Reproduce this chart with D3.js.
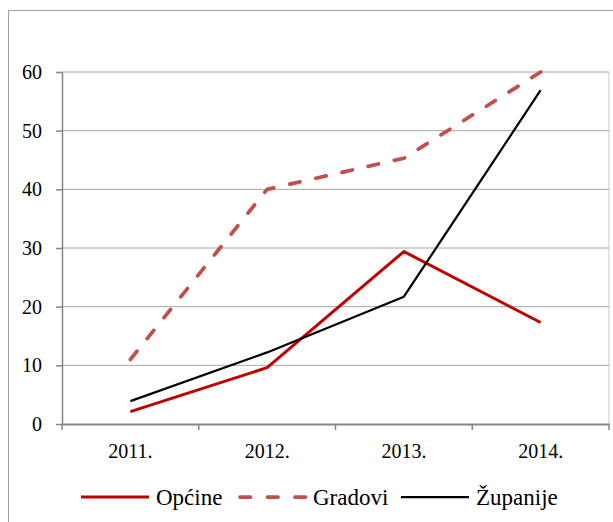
<!DOCTYPE html>
<html><head><meta charset="utf-8">
<script src="https://cdn.jsdelivr.net/npm/d3@7"></script>
<style>
html,body{margin:0;padding:0;background:#fff;}
svg{display:block;font-family:"Liberation Serif","DejaVu Serif",serif;font-variant-numeric:oldstyle-nums;}
</style></head>
<body><svg id="c" width="613" height="522"></svg>
<script>
const years = ["2011.", "2012.", "2013.", "2014."];
const opcine = [2.1, 9.6, 29.4, 17.3];
const gradovi = [11.0, 40.0, 45.3, 60.0];
const zupanije = [3.9, 12.2, 21.7, 56.9];
const yTicks = [0, 10, 20, 30, 40, 50, 60];
const seriesNames = ["Općine", "Gradovi", "Županije"];

const series = [
  {name: seriesNames[0], values: opcine, color: "#c00000", dash: null, width: 3},
  {name: seriesNames[1], values: gradovi, color: "#c0504d", dash: "10.5,17", width: 3.75},
  {name: seriesNames[2], values: zupanije, color: "#000000", dash: null, width: 2.25}
];

const svg = d3.select("#c");
const L = 62, R = 609, T = 72, B = 424;

// outer chart border
svg.append("rect").attr("x", 8.5).attr("y", 10.5).attr("width", 700).attr("height", 600)
  .attr("fill", "none").attr("stroke", "#a0a0a0").attr("stroke-width", 1);

const x = d3.scaleBand().domain(years).range([L, R]).padding(0);
const y = d3.scaleLinear().domain([0, 60]).range([B, T]);

// gridlines
svg.append("g").selectAll("line").data(yTicks.filter(d => d > 0)).join("line")
  .attr("x1", L).attr("x2", R).attr("y1", d => y(d)).attr("y2", d => y(d))
  .attr("stroke", "#a6a6a6").attr("stroke-width", 1);

// right plot border
svg.append("line").attr("x1", R).attr("x2", R).attr("y1", T).attr("y2", B)
  .attr("stroke", "#c8c8c8").attr("stroke-width", 1);

// y axis
const yAxis = svg.append("g").attr("transform", `translate(${L},0)`)
  .call(d3.axisLeft(y).tickValues(yTicks).tickSize(6).tickPadding(14).tickSizeOuter(0));
yAxis.select(".domain").attr("stroke", "#868686").attr("stroke-width", 1.5);
yAxis.selectAll(".tick line").attr("stroke", "#868686").attr("stroke-width", 1.5);
yAxis.selectAll("text").attr("font-size", 20).attr("fill", "#000")
  .attr("font-family", "Liberation Serif");

// x axis
const xAxis = svg.append("g").attr("transform", `translate(0,${B})`)
  .call(d3.axisBottom(x).tickSize(0).tickPadding(20).tickSizeOuter(0));
xAxis.select(".domain").attr("stroke", "#868686").attr("stroke-width", 2);
xAxis.selectAll("text").attr("font-size", 20).attr("fill", "#000")
  .attr("font-family", "Liberation Serif");
// category boundary ticks
const bounds = years.map(d => x(d)).concat([x(years[years.length - 1]) + x.bandwidth()]);
svg.append("g").selectAll("line").data(bounds).join("line")
  .attr("x1", d => d).attr("x2", d => d).attr("y1", B).attr("y2", B + 6)
  .attr("stroke", "#868686").attr("stroke-width", 1.5);

// lines
const line = d3.line().x((d, i) => x(years[i]) + x.bandwidth() / 2).y(d => y(d));
svg.append("g").selectAll("path").data(series).join("path")
  .attr("d", d => line(d.values))
  .attr("fill", "none")
  .attr("stroke", d => d.color)
  .attr("stroke-width", d => d.width)
  .attr("stroke-linecap", d => d.dash ? "round" : "butt")
  .attr("stroke-linejoin", "round")
  .each(function(d) {
    if (!d.dash) return;
    // fit dash pattern so the line starts and ends on a dash
    const len = this.getTotalLength();
    const dash = 10.5, period = 27.5;
    const n = Math.max(1, Math.round((len - dash) / period));
    const gap = (len - dash * (n + 1)) / n;
    d3.select(this).attr("stroke-dasharray", `${dash},${gap}`);
  });

// legend
const legX = [81, 238, 401];
const legY = 497;
const lg = svg.append("g").selectAll("g").data(series).join("g")
  .attr("transform", (d, i) => `translate(${legX[i]},${legY})`);
lg.append("line").attr("x1", d => d.dash ? 2 : 0).attr("x2", 68).attr("y1", 0).attr("y2", 0)
  .attr("stroke", d => d.color).attr("stroke-width", d => d.width)
  .attr("stroke-dasharray", d => d.dash)
  .attr("stroke-linecap", d => d.dash ? "round" : "butt");
lg.append("text").attr("x", 75).attr("y", 8).attr("font-size", 23).attr("fill", "#000")
  .text(d => d.name);
</script></body></html>
